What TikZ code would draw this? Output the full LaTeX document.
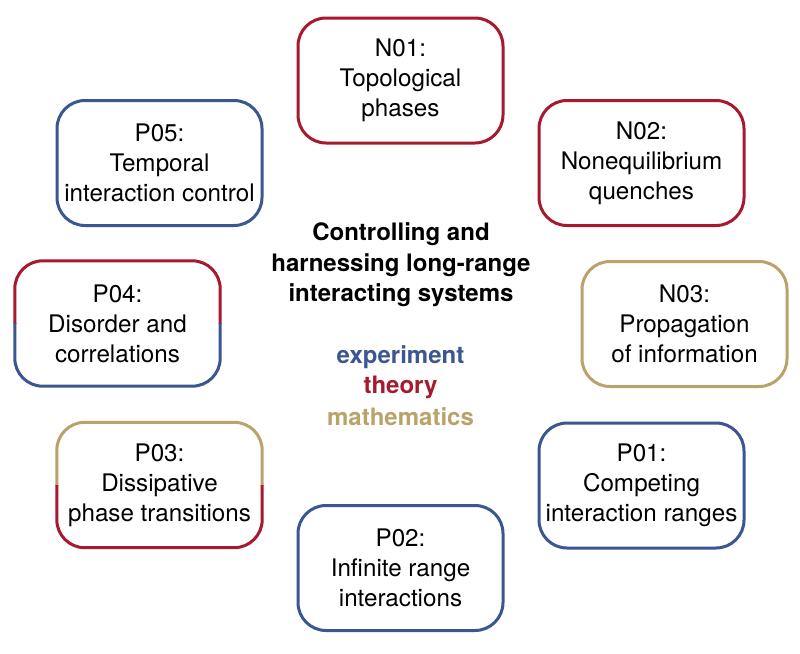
\documentclass[tikz,border=0pt]{standalone}
\usepackage{fontspec}
\setmainfont{TeX Gyre Heros}
\definecolor{cred}{RGB}{166,25,46}
\definecolor{cblue}{RGB}{59,86,145}
\definecolor{cgold}{RGB}{185,163,106}
\tikzset{
  boxbase/.style={rectangle, minimum width=205pt, minimum height=125pt, inner sep=0pt,
    align=center, font=\fontsize{24.2}{30}\selectfont},
  pbox/.style={boxbase, draw=#1, line width=3pt, rounded corners=28pt},
  splitbox/.style={boxbase},
  centertext/.style={align=center, font=\fontsize{24}{30.5}\selectfont\bfseries},
}
\begin{document}
\begin{tikzpicture}[x=1pt,y=-1pt]
\useasboundingbox[fill=white] (0,0) rectangle (800,653);
\node[pbox=cred]  (n01) at (400.5,80.5) {N01:\\Topological\\phases};
\node[pbox=cred]  (n02) at (641.5,163) {N02:\\Nonequilibrium\\quenches};
\node[pbox=cgold] (n03) at (684.5,324) {N03:\\Propagation\\of information};
\node[pbox=cblue] (p01) at (641.5,485.5) {P01:\\Competing\\interaction ranges};
\node[pbox=cblue] (p02) at (400.5,568) {P02:\\Infinite range\\interactions};
\node[splitbox]   (p03) at (159.5,485) {P03:\\Dissipative\\phase transitions};
\node[splitbox]   (p04) at (117.5,323.5) {P04:\\Disorder and\\correlations};
\node[pbox=cblue] (p05) at (159.5,163) {P05:\\Temporal\\interaction control};
% two-colour borders
\foreach \n/\top/\bot in {p03/cgold/cred, p04/cred/cblue}{
  \begin{scope}
    \clip ([xshift=-10pt,yshift=10pt]\n.north west) rectangle ([xshift=10pt]\n.east);
    \draw[\top, line width=3pt, rounded corners=28pt] (\n.north west) rectangle (\n.south east);
  \end{scope}
  \begin{scope}
    \clip ([xshift=-10pt]\n.west) rectangle ([xshift=10pt,yshift=-10pt]\n.south east);
    \draw[\bot, line width=3pt, rounded corners=28pt] (\n.north west) rectangle (\n.south east);
  \end{scope}
}
\node[centertext] (title) at (401,265) {Controlling and\\harnessing long-range\\interacting systems};
\node[centertext, text=cblue] (exp) at (400.5,357) {experiment};
\node[centertext, text=cred] (theo) at (400.5,387) {theory};
\node[centertext, text=cgold] (math) at (400.5,417) {mathematics};
\end{tikzpicture}
\end{document}
